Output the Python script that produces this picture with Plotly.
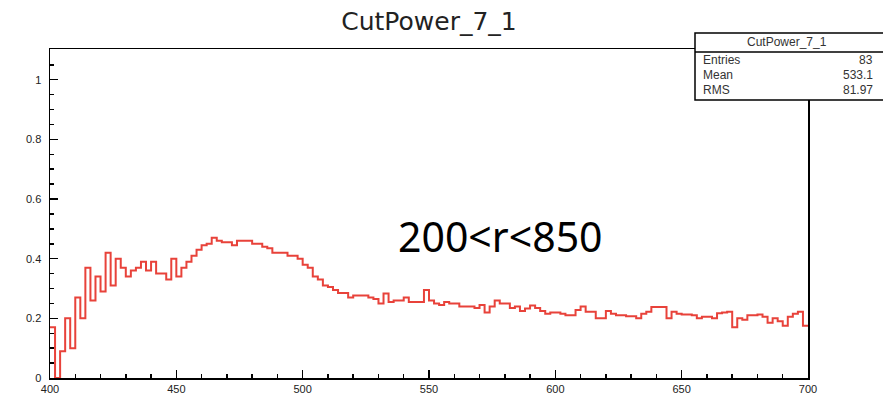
import numpy as np
import plotly.graph_objects as go

# Histogram: 150 bins of width 2 from 400 to 700
x_min = 400
x_max = 700
bin_width = 2
values = [
    0.17, 0.00, 0.09, 0.20, 0.10, 0.27, 0.20, 0.37, 0.26, 0.34,     # 400-418
    0.29, 0.42, 0.31, 0.40, 0.37, 0.34, 0.36, 0.37, 0.39, 0.36,     # 420-438
    0.39, 0.35, 0.35, 0.33, 0.40, 0.34, 0.37, 0.39, 0.41, 0.43,     # 440-458
    0.445, 0.45, 0.47, 0.46, 0.455, 0.455, 0.445, 0.46, 0.46, 0.46, # 460-478
    0.45, 0.45, 0.44, 0.435, 0.42, 0.42, 0.42, 0.41, 0.41, 0.40,    # 480-498
    0.38, 0.37, 0.34, 0.33, 0.31, 0.305, 0.295, 0.285, 0.285, 0.27, # 500-518
    0.277, 0.277, 0.277, 0.27, 0.265, 0.25, 0.283, 0.255, 0.26, 0.26,  # 520-538
    0.27, 0.255, 0.255, 0.255, 0.295, 0.26, 0.25, 0.245, 0.255, 0.25,  # 540-558
    0.25, 0.24, 0.24, 0.24, 0.235, 0.245, 0.22, 0.24, 0.26, 0.25,      # 560-578
    0.25, 0.235, 0.24, 0.225, 0.233, 0.243, 0.235, 0.225, 0.215, 0.22, # 580-598
    0.22, 0.215, 0.21, 0.21, 0.228, 0.24, 0.222, 0.222, 0.20, 0.20,    # 600-618
    0.225, 0.215, 0.21, 0.21, 0.207, 0.207, 0.20, 0.215, 0.222, 0.238, # 620-638
    0.238, 0.238, 0.20, 0.222, 0.215, 0.213, 0.213, 0.21, 0.20, 0.205, # 640-658
    0.205, 0.20, 0.217, 0.22, 0.222, 0.17, 0.20, 0.195, 0.21, 0.21,    # 660-678
    0.213, 0.205, 0.185, 0.20, 0.19, 0.175, 0.205, 0.215, 0.222, 0.175,# 680-698
]
x_ticks = [400, 450, 500, 550, 600, 650, 700]
y_ticks = [0, 0.2, 0.4, 0.6, 0.8, 1]
y_tick_labels = ["0", "0.2", "0.4", "0.6", "0.8", "1"]

title_text = "CutPower_7_1"
stats_labels = ["Entries", "Mean", "RMS"]
stats_values = ["83", "533.1", "81.97"]
note_text = "200<r<850"

edges = x_min + bin_width * np.arange(len(values) + 1)
y_step = list(values) + [values[-1]]

line_color = "#e8423a"
axis_font = dict(family="Liberation Sans, Arial, sans-serif", size=11, color="#222222")

W, H = 883, 395
ML, MR, MT, MB = 50, 75, 49, 17

fig = go.Figure()
fig.add_trace(go.Scatter(
    x=edges, y=y_step, mode="lines",
    line=dict(color=line_color, width=2, shape="hv"),
    hoverinfo="skip", showlegend=False,
))

fig.update_layout(
    width=W, height=H,
    margin=dict(l=ML, r=MR, t=MT, b=MB),
    paper_bgcolor="white", plot_bgcolor="white",
    template="none",
    showlegend=False,
    title=dict(
        text=title_text, x=0.5, xref="paper", xanchor="center",
        y=(H - 21) / H, yref="container", yanchor="middle",
        font=dict(family="DejaVu Sans, sans-serif", size=25, color="#222222"),
    ),
)

fig.update_xaxes(
    range=[x_min, x_max], tickvals=x_ticks, ticktext=[str(v) for v in x_ticks],
    ticks="inside", ticklen=8, tickwidth=1.5, tickcolor="black",
    minor=dict(dtick=10, tick0=400, ticks="inside", ticklen=4, tickwidth=1.5, tickcolor="black", showgrid=False),
    showline=True, linecolor="black", linewidth=1.5, mirror=True,
    showgrid=False, zeroline=False, tickfont=axis_font, automargin=False,
)
fig.update_yaxes(
    range=[0, 1.103], tickvals=y_ticks, ticktext=y_tick_labels,
    ticks="inside", ticklen=8, tickwidth=1.5, tickcolor="black",
    minor=dict(dtick=0.05, tick0=0, ticks="inside", ticklen=4, tickwidth=1.5, tickcolor="black", showgrid=False),
    showline=True, linecolor="black", linewidth=1.5, mirror=True,
    showgrid=False, zeroline=False, tickfont=axis_font, automargin=False,
    ticklabelstandoff=5,
)

# Stats box (paper coordinates relative to plot area)
px_w = float(W - ML - MR)
px_h = float(H - MT - MB)
y_axis_px = H - MB
def xp(px):
    return (px - ML) / px_w
def yp(py):
    return (y_axis_px - py) / px_h

box_x0, box_x1 = xp(695), xp(884)
box_top, box_sep, box_bot = yp(33), yp(52), yp(100)
fig.add_shape(type="rect", xref="paper", yref="paper",
              x0=box_x0, x1=box_x1, y0=box_bot, y1=box_top,
              line=dict(color="black", width=1.5), fillcolor="white", layer="above")
fig.add_shape(type="line", xref="paper", yref="paper",
              x0=box_x0, x1=box_x1, y0=box_sep, y1=box_sep,
              line=dict(color="black", width=1.5), layer="above")

stats_font = dict(family="Liberation Sans, Arial, sans-serif", size=12, color="#333333")
fig.add_annotation(text=title_text, xref="paper", yref="paper",
                   x=xp(787), y=yp(42.5), xanchor="center", yanchor="middle",
                   showarrow=False, font=stats_font)
row_y = [60, 75, 90]
for lab, val, ry in zip(stats_labels, stats_values, row_y):
    fig.add_annotation(text=lab, xref="paper", yref="paper",
                       x=xp(701), y=yp(ry), xanchor="left", yanchor="middle",
                       showarrow=False, font=stats_font)
    fig.add_annotation(text=val, xref="paper", yref="paper",
                       x=xp(875), y=yp(ry), xanchor="right", yanchor="middle",
                       showarrow=False, font=stats_font)

fig.add_annotation(text=note_text, xref="paper", yref="paper",
                   x=xp(500), y=yp(236), xanchor="center", yanchor="middle",
                   showarrow=False,
                   font=dict(family="Noto Sans, sans-serif", size=41, color="black"))

fig.write_html("out.html",
               config={"displayModeBar": False, "staticPlot": True},
               post_script="document.body.style.margin='0';document.body.style.overflow='hidden';")
